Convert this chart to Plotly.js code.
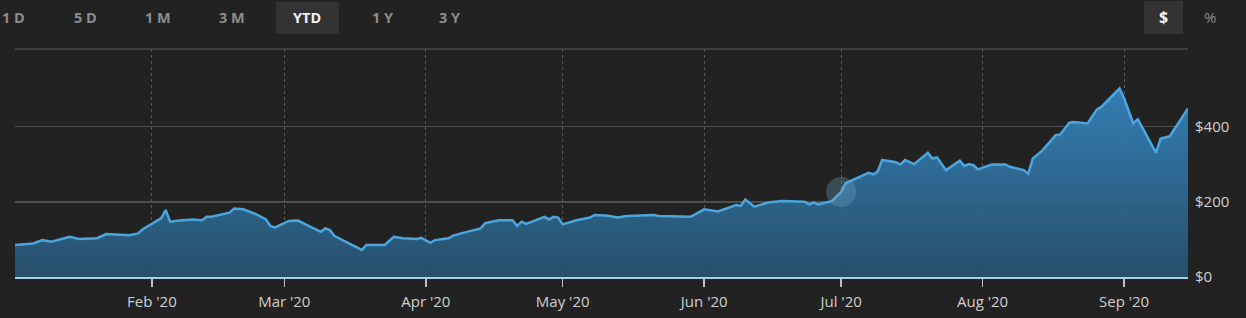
<!DOCTYPE html>
<html>
<head>
<meta charset="utf-8">
<script src="https://cdn.plot.ly/plotly-3.0.1.min.js"></script>
<style>
html,body{margin:0;padding:0;background:#222222;}
#chart{width:1246px;height:318px;}
</style>
</head>
<body>
<div id="chart"></div>
<script>
const dates = [
"2020-01-02","2020-01-06","2020-01-08","2020-01-10","2020-01-14","2020-01-16","2020-01-20","2020-01-22","2020-01-27","2020-01-29","2020-01-30","2020-01-31",
"2020-02-03","2020-02-04","2020-02-05","2020-02-07","2020-02-10","2020-02-12","2020-02-13","2020-02-14","2020-02-18","2020-02-19","2020-02-21","2020-02-24","2020-02-26","2020-02-27","2020-02-28",
"2020-03-02","2020-03-04","2020-03-06","2020-03-09","2020-03-10","2020-03-11","2020-03-12","2020-03-16","2020-03-18","2020-03-19","2020-03-23","2020-03-25","2020-03-27","2020-03-30","2020-03-31",
"2020-04-02","2020-04-03","2020-04-06","2020-04-07","2020-04-10","2020-04-13","2020-04-14","2020-04-17","2020-04-20","2020-04-21","2020-04-22","2020-04-23","2020-04-27","2020-04-28","2020-04-29","2020-04-30",
"2020-05-01","2020-05-04","2020-05-07","2020-05-08","2020-05-11","2020-05-13","2020-05-15","2020-05-21","2020-05-22","2020-05-28","2020-05-29",
"2020-06-01","2020-06-04","2020-06-08","2020-06-09","2020-06-10","2020-06-12","2020-06-15","2020-06-18","2020-06-23","2020-06-24","2020-06-25","2020-06-26","2020-06-29",
"2020-07-01","2020-07-02","2020-07-07","2020-07-08","2020-07-09","2020-07-10","2020-07-13","2020-07-14","2020-07-15","2020-07-17","2020-07-20","2020-07-21","2020-07-22","2020-07-24","2020-07-27","2020-07-28","2020-07-29","2020-07-30","2020-07-31",
"2020-08-03","2020-08-06","2020-08-07","2020-08-10","2020-08-11","2020-08-12","2020-08-14","2020-08-17","2020-08-18","2020-08-20","2020-08-21","2020-08-24","2020-08-26","2020-08-27","2020-08-31",
"2020-09-01","2020-09-03","2020-09-04","2020-09-08","2020-09-09","2020-09-11","2020-09-15"
];
const values = [
85,89,98,94,107,101,103,114,111,116,127,134,
156,178,147,150,153,151,160,160,171,182,180,166,153,135,132,
149,150,138,120,129,125,109,85,72,85,85,107,103,101,104,
91,98,103,110,120,129,143,151,151,136,147,141,160,153,160,158,
140,151,158,165,163,158,162,165,162,162,160,
180,174,191,189,206,187,198,202,200,193,198,193,202,
226,249,277,273,280,311,305,299,311,300,330,315,318,284,309,295,300,297,286,
299,299,293,284,274,315,335,377,379,410,412,408,445,452,501,
475,408,419,330,368,374,448
];
const rangeButtons = ["1 D","5 D","1 M","3 M","YTD","1 Y","3 Y"];
const activeRange = "YTD";
const unitButtons = ["$","%"];
const activeUnit = "$";
const yTicks = [0,200,400];
const yTickText = ["$0","$200","$400"];
const hoverDate = "2020-07-01";

const hoverIdx = dates.indexOf(hoverDate);

const traces = [
  {
    x: dates, y: values, type: "scatter", mode: "lines",
    line: {color: "#4ba6de", width: 2.5, shape: "linear"},
    fill: "tozeroy",
    fillgradient: {
      type: "vertical", start: 0, stop: 500,
      colorscale: [[0, "rgba(40,82,112,0.93)"], [1, "rgba(52,133,190,0.93)"]]
    },
    hoverinfo: "skip"
  },
  {
    x: [dates[hoverIdx]], y: [values[hoverIdx]], type: "scatter", mode: "markers",
    marker: {size: 30, color: "rgba(110,160,190,0.33)", line: {width: 0}},
    hoverinfo: "skip"
  }
];

const btnX = [13, 85, 158, 232, 307, 383, 450];
const annotations = [];
const shapes = [];
rangeButtons.forEach((b, i) => {
  const act = b === activeRange;
  annotations.push({
    x: btnX[i], text: b, showarrow: false,
    font: {family: "Open Sans, Arial, sans-serif", size: 14.5, color: act ? "#f2f2f2" : "#8c8c8c", weight: "bold"},
    xanchor: "center", yanchor: "middle"
  });
});
const unitX = [1163, 1210];
unitButtons.forEach((b, i) => {
  const act = b === activeUnit;
  annotations.push({
    text: b, showarrow: false, x: unitX[i],
    font: {family: "Open Sans, Arial, sans-serif", size: act ? 16 : 15, color: act ? "#f2f2f2" : "#8c8c8c", weight: act ? "bold" : "normal"},
    xanchor: "center", yanchor: "middle"
  });
});
const W = 1246, H = 318, mL = 15, mR = 58, mT = 49, mB = 41;
const pw = W - mL - mR, ph = H - mT - mB;
annotations.forEach(a => {
  a.xref = "paper"; a.yref = "paper";
  a.x = (a.x - mL) / pw;
  a.y = (H - mB - 17) / ph;
});
function boxPx(x0, y0, x1, y1, color) {
  shapes.push({type: "rect", xref: "paper", yref: "paper",
    x0: (x0 - mL) / pw, x1: (x1 - mL) / pw,
    y0: (H - mB - y1) / ph, y1: (H - mB - y0) / ph,
    fillcolor: color, line: {width: 0}, layer: "below"});
}
boxPx(276, 2, 339, 34, "#333333");
boxPx(1144, 1, 1183, 34, "#333333");
shapes.push({type: "line", xref: "paper", yref: "paper", x0: 0, x1: 1, y0: 1, y1: 1,
  line: {color: "#4a4a4a", width: 1.5}});

const layout = {
  width: W, height: H,
  margin: {l: mL, r: mR, t: mT, b: mB, pad: 0},
  paper_bgcolor: "#222222", plot_bgcolor: "#222222",
  showlegend: false,
  font: {family: "Open Sans, Arial, sans-serif", color: "#cfcfcf", size: 15},
  xaxis: {
    type: "date", range: ["2020-01-02", "2020-09-15"],
    tickformat: "%b '%y", dtick: "M1", tick0: "2020-02-01",
    ticks: "outside", ticklen: 8, tickwidth: 1.5, tickcolor: "#bfbfbf",
    showgrid: true, gridcolor: "#5a5a5a", griddash: "dot", gridwidth: 1,
    showline: true, linecolor: "#a9cfea", linewidth: 2,
    zeroline: false, fixedrange: true, ticklabelstandoff: 2,
    tickfont: {size: 15, color: "#cfcfcf"}
  },
  yaxis: {
    side: "right", range: [0, 606], tickmode: "array", tickvals: yTicks, ticktext: yTickText,
    showgrid: true, gridcolor: "#4e4e4e", gridwidth: 1.5,
    zeroline: false, showline: false, ticks: "", ticklabelstandoff: 6,
    tickfont: {size: 15, color: "#cfcfcf"}, fixedrange: true
  },
  annotations: annotations,
  shapes: shapes
};

Plotly.newPlot("chart", traces, layout, {displayModeBar: false, staticPlot: true});
</script>
</body>
</html>
